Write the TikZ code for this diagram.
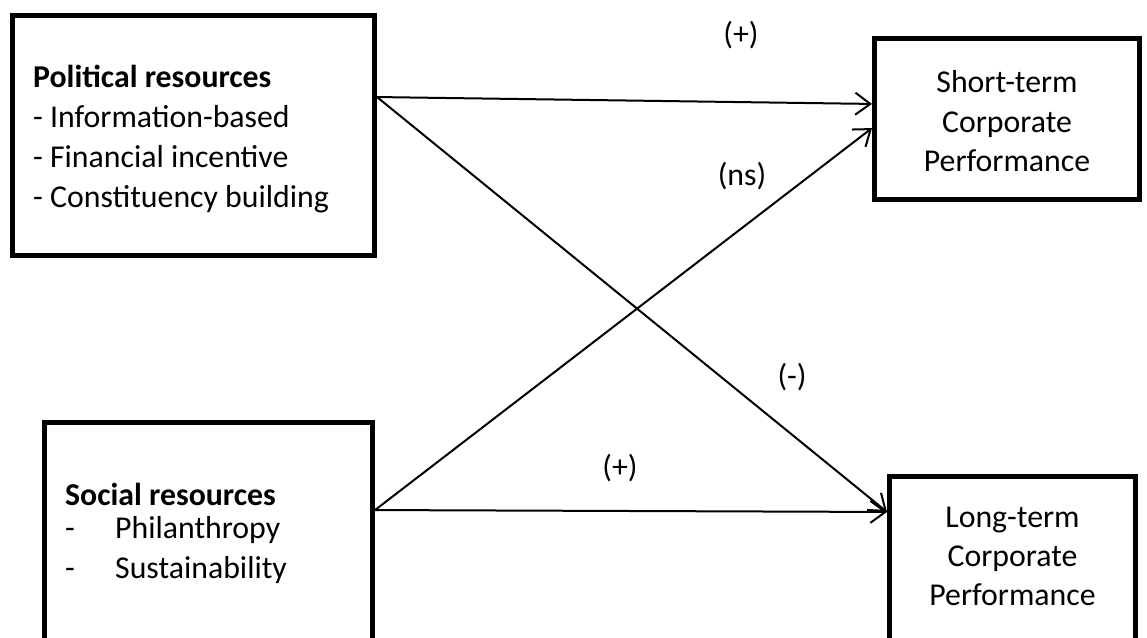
\documentclass[tikz,border=0pt]{standalone}
\usepackage{fontspec}
\setmainfont{Carlito}
\usetikzlibrary{arrows.meta,calc}
\begin{document}
\begin{tikzpicture}[x=1pt,y=-1pt,
  box/.style={draw,line width=5pt,rectangle,inner sep=0pt},
  lbl/.style={font=\fontsize{31.8}{40}\selectfont,inner sep=0pt},
  txt/.style={lbl,anchor=base west},
  ctr/.style={lbl,anchor=base},
  conn/.style={line width=2pt,-{Straight Barb[length=15pt,width=22pt]}}]
\useasboundingbox (0,0) rectangle (1147,637);
% boxes
\node[box,minimum width=362.5pt,minimum height=240pt] (pol) at (193.25,135.5) {};
\node[box,minimum width=265pt,minimum height=161.5pt] (st) at (1007,118.75) {};
\node[box,minimum width=328pt,minimum height=257.5pt] (soc) at (208.5,551.25) {};
\node[box,minimum width=246pt,minimum height=204pt] (lt) at (1012.5,578) {};
% texts
\node[txt] (p0) at (33,87) {\bfseries Political resources};
\node[txt] (p1t) at (33,127) {- Information-based};
\node[txt] (p2t) at (33,167) {- Financial incentive};
\node[txt] (p3t) at (33,207) {- Constituency building};
\node[txt] (s0) at (65,505) {\bfseries Social resources};
\node[txt] (sd1) at (65,538) {-};
\node[txt] (sa) at (115,538) {Philanthropy};
\node[txt] (sd2) at (65,578) {-};
\node[txt] (sb) at (115,578) {Sustainability};
\node[ctr] (st1) at (1007,92) {Short-term};
\node[ctr] (st2) at (1007,132) {Corporate};
\node[ctr] (st3) at (1007,171) {Performance};
\node[ctr] (lt1) at (1012.5,527) {Long-term};
\node[ctr] (lt2) at (1012.5,566) {Corporate};
\node[ctr] (lt3) at (1012.5,605) {Performance};
% labels
\node[lbl] (l1) at (741,35) {(+)};
\node[lbl] (l2) at (742,176) {(ns)};
\node[lbl] (l3) at (792,377) {(-)};
\node[lbl] (l4) at (620,468) {(+)};
% connector end points
\coordinate (pout) at ($(pol.north east)!0.343!(pol.south east)$);
\coordinate (sout) at ($(soc.north east)!0.343!(soc.south east)$);
\coordinate (stin1) at ($(st.north west)!0.411!(st.south west)$);
\coordinate (stin2) at ($(st.north west)!0.556!(st.south west)$);
\coordinate (ltin) at ($(lt.north west)!0.184!(lt.south west)$);
% connectors
\draw[conn] (pout) -- (stin1);
\draw[conn] (pout) -- (ltin);
\draw[conn] (sout) -- (stin2);
\draw[conn] (sout) -- (ltin);
\end{tikzpicture}
\end{document}
